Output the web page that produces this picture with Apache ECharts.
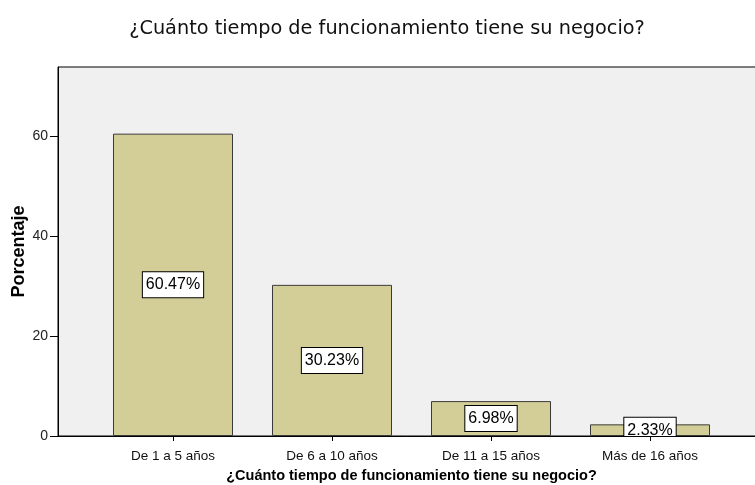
<!DOCTYPE html>
<html>
<head>
<meta charset="utf-8">
<script src="https://cdn.jsdelivr.net/npm/echarts@6/dist/echarts.min.js"></script>
<style>html,body{margin:0;padding:0;background:#fff}#c{width:755px;height:485px}</style>
</head>
<body>
<div id="c"></div>
<script>
const categories = ['De 1 a 5 años', 'De 6 a 10 años', 'De 11 a 15 años', 'Más de 16 años'];
const values = [60.47, 30.23, 6.98, 2.33];
const yTicks = [0, 20, 40, 60];
const titleText = '¿Cuánto tiempo de funcionamiento tiene su negocio?';
const xName = '¿Cuánto tiempo de funcionamiento tiene su negocio?';
const yName = 'Porcentaje';

const chart = echarts.init(document.getElementById('c'), null, {renderer: 'canvas'});
const yMax = 73.8;
chart.setOption({
  animation: false,
  backgroundColor: '#ffffff',
  title: {
    text: titleText,
    left: 382,
    textAlign: 'center',
    top: 14,
    textStyle: {fontFamily: 'DejaVu Sans', fontSize: 19.3, fontWeight: 'normal', color: '#111'}
  },
  grid: [
    {left: 58, right: -5, top: 67, bottom: 49, show: true, backgroundColor: '#f0f0f0', borderColor: '#000', borderWidth: 1, outerBoundsMode: 'none', containLabel: false},
    {left: 93.5, right: 25.5, top: 67, bottom: 49, outerBoundsMode: 'none', containLabel: false}
  ],
  xAxis: [
    {
      gridIndex: 0, type: 'value', min: 0, max: 1, z: 20,
      axisLine: {show: true, lineStyle: {color: '#000', width: 1}},
      axisTick: {show: false}, axisLabel: {show: false}, splitLine: {show: false}
    },
    {
      gridIndex: 1, type: 'category', data: categories, z: 20,
      axisLine: {show: false},
      axisTick: {show: true, alignWithLabel: true, length: 5, lineStyle: {color: '#000'}},
      axisLabel: {fontFamily: 'Liberation Sans', fontSize: 13.5, color: '#111', margin: 13},
      name: xName, nameLocation: 'middle', nameGap: 32, nameMoveOverlap: false,
      nameTextStyle: {fontFamily: 'Liberation Sans', fontSize: 14.5, fontWeight: 'bold', color: '#000'}
    }
  ],
  yAxis: [
    {
      gridIndex: 0, type: 'value', min: 0, max: yMax, interval: 20,
      axisLine: {show: true, lineStyle: {color: '#000', width: 1}},
      axisTick: {show: true, length: 8, customValues: yTicks, lineStyle: {color: '#000'}},
      axisLabel: {fontFamily: 'Liberation Sans', fontSize: 14, color: '#222', margin: 10, customValues: yTicks},
      splitLine: {show: false},
      name: yName, nameLocation: 'middle', nameGap: 30, nameRotate: 90, nameMoveOverlap: false,
      nameTextStyle: {fontFamily: 'Liberation Sans', fontSize: 18, fontWeight: 'bold', color: '#000'}
    },
    {gridIndex: 1, type: 'value', min: 0, max: yMax, show: false}
  ],
  series: [{
    type: 'bar',
    xAxisIndex: 1, yAxisIndex: 1,
    data: values,
    barWidth: 120,
    z: 2,
    itemStyle: {color: '#d3ce97', borderColor: '#3a3a3a', borderWidth: 1},
    label: {
      show: true, position: 'inside',
      formatter: p => p.value.toFixed(2) + '%',
      fontFamily: 'Liberation Sans', fontSize: 16, color: '#000',
      backgroundColor: '#fff', borderColor: '#000', borderWidth: 1,
      padding: [4, 3, 3, 3], lineHeight: 18
    }
  }]
});
// mask below the plot area so bar labels are clipped at the axis like the original
const axisY = chart.convertToPixel({yAxisIndex: 1}, 0);
const plotLeft = chart.convertToPixel({xAxisIndex: 0}, 0);
chart.setOption({
  graphic: [{
    type: 'rect', z: 10, silent: true,
    shape: {x: plotLeft + 1, y: axisY + 1, width: 755, height: 9},
    style: {fill: '#ffffff'}
  }]
});
</script>
</body>
</html>
